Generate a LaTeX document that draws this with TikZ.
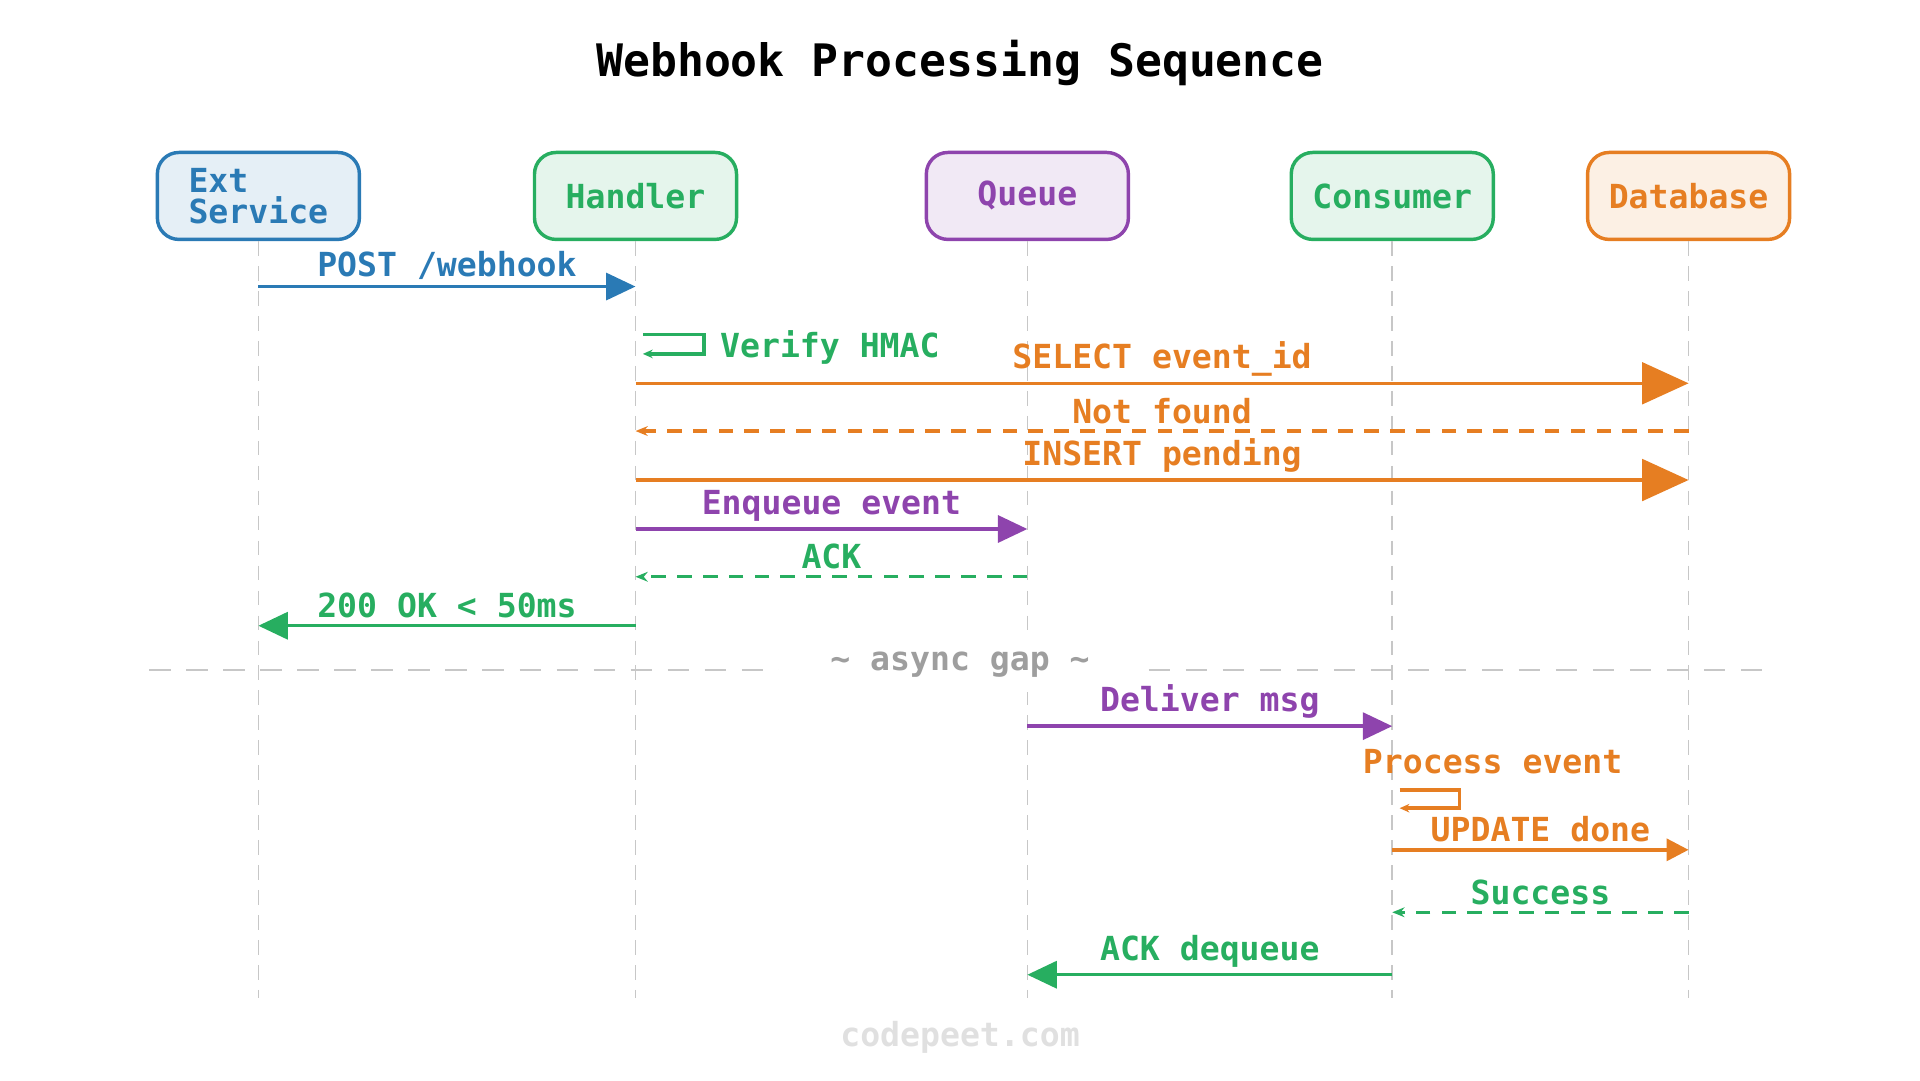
\documentclass[tikz,border=0pt]{standalone}
\usepackage{fontspec}
\setmonofont{DejaVu Sans Mono}
\usetikzlibrary{arrows.meta}
\definecolor{cblue}{HTML}{2A7AB5}
\definecolor{cgreen}{HTML}{27AE60}
\definecolor{cpurple}{HTML}{8E44AD}
\definecolor{corange}{HTML}{E67E22}
\tikzset{
  actor/.style={draw=#1, fill=#1!12, thick, rounded corners=5pt, minimum width=1.65cm, minimum height=0.71cm, text=#1, font=\ttfamily\bfseries\fontsize{7.7}{7.2}\selectfont, align=left},
  life/.style={draw=black!22, thin, dash pattern=on 3.4pt off 2.4pt},
  msg/.style={draw=#1, thick, text=#1, font=\ttfamily\bfseries\fontsize{7.7}{9}\selectfont},
  big/.style={-{Triangle[length=0.38cm,width=0.34cm]}},
  mid/.style={-{Triangle[length=0.24cm,width=0.22cm]}},
  small/.style={-{Triangle[length=0.18cm,width=0.18cm]}},
  ret/.style={dash pattern=on 3.4pt off 2.6pt, -{Stealth[length=0.1cm,width=0.08cm]}},
  lbl/.style={above=-2pt},
}
\begin{document}
\begin{tikzpicture}
\useasboundingbox (0,0) rectangle (15.68,-8.82);
\node[font=\ttfamily\bfseries\fontsize{10.4}{12}\selectfont] (title) at (7.84,-0.51) {Webhook Processing Sequence};
% participants
\node[actor=cblue] (ext) at (2.11,-1.6) {Ext\\Service};
\node[actor=cgreen] (hdl) at (5.19,-1.6) {Handler};
\node[actor=cpurple] (que) at (8.39,-1.6) {Queue};
\node[actor=cgreen] (con) at (11.37,-1.6) {Consumer};
\node[actor=corange] (db) at (13.79,-1.6) {Database};
% lifelines
\foreach \n in {ext,hdl,que,con,db} {
  \coordinate (\n-end) at (\n.south|-0,-8.15);
  \draw[life] (\n.south) -- (\n-end);
}
% message anchors
\foreach \n in {ext,hdl,que,con,db}
  \foreach \k/\y in {post/2.34,sel/3.13,nf/3.52,ins/3.92,enq/4.32,ack/4.71,ok/5.11,dlv/5.93,upd/6.94,suc/7.45,deq/7.96}
    \coordinate (\n-\k) at (\n.south|-0,-\y);
% messages
\draw[msg=cblue, mid] (ext-post) -- node[lbl] {POST /webhook} (hdl-post);
\draw[msg=cgreen, -{Stealth[length=0.08cm,width=0.07cm]}] ([xshift=0.06cm,yshift=-0.39cm]hdl-post) -- ++(0.5,0) -- ++(0,-0.16) -- ++(-0.5,0)
  node[pos=0,right=0cm,yshift=0.05cm] (vrf) {Verify HMAC};
\draw[msg=corange, big] (hdl-sel) -- node[lbl] {SELECT event\_id} (db-sel);
\draw[msg=corange, ret] (db-nf) -- node[lbl] {Not found} (hdl-nf);
\draw[msg=corange, big] (hdl-ins) -- node[lbl] {INSERT pending} (db-ins);
\draw[msg=cpurple, mid] (hdl-enq) -- node[lbl] {Enqueue event} (que-enq);
\draw[msg=cgreen, ret] (que-ack) -- node[lbl] {ACK} (hdl-ack);
\draw[msg=cgreen, mid] (hdl-ok) -- node[lbl] {200 OK < 50ms} (ext-ok);
% async gap
\coordinate (gapL) at (1.22,-5.47);
\coordinate (gapR) at (14.45,-5.47);
\draw[draw=black!22, thin, dash pattern=on 5pt off 3.6pt] (gapL) -- (gapR);
\node[fill=white, text=black!38, inner xsep=12pt, font=\ttfamily\bfseries\fontsize{7.7}{9}\selectfont] (gap) at (7.84,-5.43) {\char`~{} async gap \char`~};
\draw[msg=cpurple, mid] (que-dlv) -- node[lbl] {Deliver msg} (con-dlv);
\node[msg=corange, draw=none] (proc) at (12.19,-6.22) {Process event};
\draw[msg=corange, -{Stealth[length=0.08cm,width=0.07cm]}] ([xshift=0.06cm,yshift=0.49cm]con-upd) -- ++(0.49,0) -- ++(0,-0.15) -- ++(-0.49,0);
\draw[msg=corange, small] (con-upd) -- node[lbl] {UPDATE done} (db-upd);
\draw[msg=cgreen, ret] (db-suc) -- node[lbl] {Success} (con-suc);
\draw[msg=cgreen, mid] (con-deq) -- node[lbl] {ACK dequeue} (que-deq);
\node[text=black!12, font=\ttfamily\bfseries\fontsize{7.7}{9}\selectfont] (site) at (7.84,-8.47) {codepeet.com};
\end{tikzpicture}
\end{document}
